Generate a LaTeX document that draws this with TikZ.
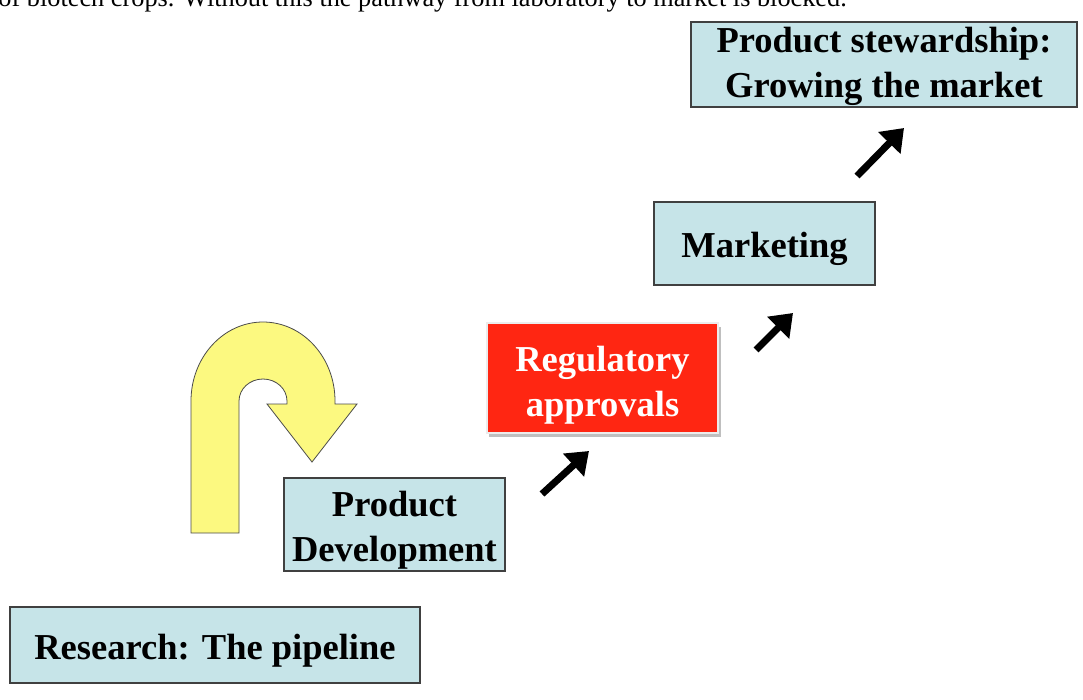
\documentclass[tikz,border=0pt]{standalone}
\usepackage{fontspec}
\setmainfont{Liberation Serif}
\usetikzlibrary{arrows.meta}
\definecolor{boxblue}{RGB}{198,228,232}
\definecolor{boxred}{RGB}{255,38,18}
\definecolor{uyellow}{RGB}{252,249,128}
\tikzset{
  bluebox/.style={draw=black!75, line width=1.2pt, fill=boxblue, inner sep=0pt},
  redbox/.style={draw=white!85!gray, line width=1.5pt, fill=boxred, inner sep=0pt},
  boxtext/.style={align=center, font=\fontsize{36.5}{45}\selectfont\bfseries, inner sep=0pt},
  blackarrow/.style={line width=7pt, -{Triangle[width=30pt,length=21pt]}}
}
\begin{document}
\begin{tikzpicture}[x=1pt,y=1pt]
\useasboundingbox (0,0) rectangle (1083,-699);
\clip (0,0) rectangle (1083,-699);
\fill[white] (0,0) rectangle (1083,-699);
% top cut-off caption
\node[anchor=base east, inner sep=0pt, font=\fontsize{26.3}{30}\selectfont] (caption) at (847,-6)
  {of biotech crops. Without this the pathway from laboratory to market is blocked.};
% boxes
\node[bluebox, minimum width=410pt, minimum height=76pt] (research) at (215,-645) {};
\node[boxtext] (researcht) at ([yshift=-6pt]research.center) {Research: The pipeline};
\node[bluebox, minimum width=221pt, minimum height=93pt] (dev) at (394.5,-524.5) {};
\node[boxtext] (devt) at ([yshift=-6pt]dev.center) {Product\\Development};
\fill[black!25] (489,-327) rectangle (721,-437);
\node[redbox, minimum width=231pt, minimum height=110pt] (reg) at (602.5,-378) {};
\node[boxtext, text=white] (regt) at ([yshift=-7pt]reg.center) {Regulatory\\approvals};
\node[bluebox, minimum width=221pt, minimum height=83pt] (mkt) at (764.5,-243.5) {};
\node[boxtext] (mktt) at ([yshift=-5pt]mkt.center) {Marketing};
\node[bluebox, minimum width=386pt, minimum height=85pt] (stew) at (884,-64.5) {};
\node[boxtext] (stewt) at ([yshift=-1.5pt]stew.center) {Product stewardship:\\Growing the market};
% U-turn arrow
\draw[fill=uyellow, draw=black!70, line width=0.8pt]
  (191,-533) -- (191,-401) arc[start angle=180,end angle=0,x radius=72,y radius=79]
  -- (335,-404) -- (357,-404) -- (312,-462) -- (267,-404) -- (287,-404) -- (287,-401)
  arc[start angle=0,end angle=180,x radius=24,y radius=22] -- (239,-533) -- cycle;
% black arrows
\coordinate (a1s) at (542,-494); \coordinate (a1e) at (589,-451);
\coordinate (a2s) at (756,-350); \coordinate (a2e) at (793,-313);
\coordinate (a3s) at (857,-176); \coordinate (a3e) at (904,-128);
\draw[blackarrow] (a1s) -- (a1e);
\draw[blackarrow] (a2s) -- (a2e);
\draw[blackarrow] (a3s) -- (a3e);
\end{tikzpicture}
\end{document}
